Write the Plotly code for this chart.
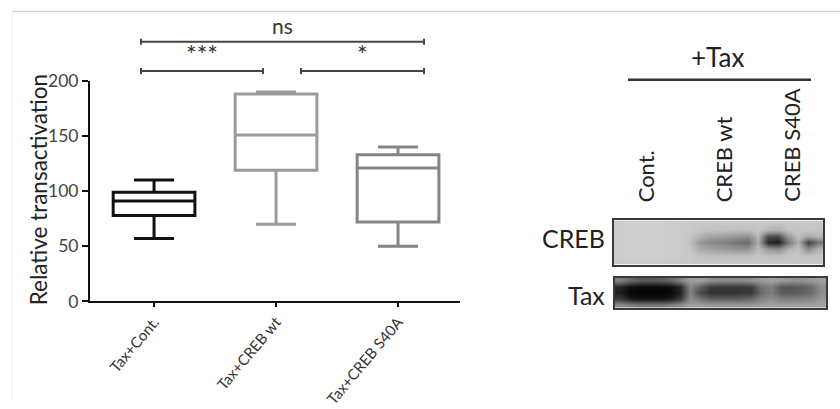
import plotly.graph_objects as go

# ---------------- data ----------------
categories = ["Tax+Cont.", "Tax+CREB wt", "Tax+CREB S40A"]
lower_whisker = [57, 70, 50]
q1_values = [78, 119, 72]
median_values = [91, 151, 121]
q3_values = [99, 188, 133]
upper_whisker = [110, 190, 140]
box_colors = ["#111111", "#9b9b9b", "#858585"]

y_ticks = [0, 50, 100, 150, 200]

brackets = [(0, 1, "***", 0), (1, 2, "*", 0), (0, 2, "ns", 1)]
bracket_levels = [209, 235.5]

lanes = ["Cont.", "CREB wt", "CREB S40A"]
blot_rows = ["CREB", "Tax"]

creb_blot = [
    [.20, .19, .19, .19, .19, .20, .20, .21, .22, .22, .22, .22, .22, .22, .22, .22, .23, .22, .22, .22, .22],
    [.20, .19, .19, .19, .19, .20, .20, .21, .23, .24, .24, .25, .25, .25, .23, .28, .30, .24, .23, .23, .23],
    [.20, .19, .19, .19, .19, .20, .20, .22, .30, .36, .38, .40, .42, .44, .28, .70, .72, .40, .25, .35, .30],
    [.20, .19, .19, .19, .19, .20, .20, .23, .40, .46, .48, .50, .55, .58, .32, .85, .88, .55, .30, .75, .55],
    [.20, .19, .19, .19, .19, .20, .20, .22, .32, .36, .38, .40, .42, .42, .27, .40, .45, .30, .24, .45, .30],
    [.20, .19, .19, .19, .19, .20, .20, .21, .24, .25, .25, .25, .25, .25, .23, .25, .25, .23, .22, .24, .23],
    [.21, .20, .20, .20, .20, .21, .21, .21, .22, .22, .22, .22, .22, .22, .22, .22, .22, .22, .22, .22, .22],
]
tax_blot = [
    [.50, .60, .65, .65, .65, .60, .50, .38, .38, .44, .46, .46, .46, .44, .40, .37, .40, .43, .43, .40, .37],
    [.85, .95, .97, .97, .97, .95, .85, .46, .62, .76, .78, .78, .78, .76, .55, .50, .66, .66, .64, .58, .45],
    [.88, .97, .98, .98, .98, .96, .88, .48, .70, .80, .80, .80, .78, .78, .58, .50, .64, .64, .62, .58, .45],
    [.78, .90, .93, .93, .93, .90, .78, .44, .54, .62, .63, .63, .62, .58, .48, .44, .50, .50, .50, .46, .40],
    [.45, .50, .53, .53, .53, .50, .45, .38, .38, .40, .40, .40, .40, .40, .38, .36, .38, .38, .38, .38, .36],
]

W, H = 840, 409
FONT = "Lato, 'Liberation Sans', Arial, sans-serif"

# the photographed page shows the paper slightly shifted/squeezed vertically;
# these two numbers map reference pixel rows to paper rows
V_SCALE, V_OFFSET = 0.945, 11.4


def px(x):
    return x / W


def py(y):
    page = (y - V_OFFSET) / V_SCALE
    return min(1.0, max(0.0, (H - page) / H))


fig = go.Figure()

positions = list(range(len(categories)))
for i, cat in enumerate(categories):
    fig.add_trace(go.Box(
        x=[positions[i]], q1=[q1_values[i]], median=[median_values[i]], q3=[q3_values[i]],
        lowerfence=[lower_whisker[i]], upperfence=[upper_whisker[i]],
        name=cat, width=0.67, whiskerwidth=0.49,
        line=dict(color=box_colors[i], width=3), fillcolor="rgba(0,0,0,0)",
        boxpoints=False, showlegend=False, hoverinfo="skip",
        xaxis="x", yaxis="y",
    ))

bracket_offsets = {(0, 1): (-0.107, -0.107), (1, 2): (0.205, 0.213), (0, 2): (-0.107, 0.213)}
tick_half = 2.7
bx, by = [], []
for a, b, lab, lev in brackets:
    oa, ob = bracket_offsets[(a, b)]
    x0, x1 = positions[a] + oa, positions[b] + ob
    yl = bracket_levels[lev]
    bx += [x0, x1, None, x0, x0, None, x1, x1, None]
    by += [yl, yl, None, yl - tick_half, yl + tick_half, None, yl - tick_half, yl + tick_half, None]
    fig.add_annotation(x=(x0 + x1) / 2, y=yl + (0.3 if lab != "ns" else 2.0), xref="x", yref="y4",
                       text=lab, showarrow=False, xanchor="center", yanchor="bottom",
                       font=dict(family=FONT, size=25 if lab != "ns" else 21, color="#333333"))
fig.add_trace(go.Scatter(x=bx, y=by, mode="lines", line=dict(color="#444444", width=2),
                         xaxis="x", yaxis="y4", showlegend=False, hoverinfo="skip"))

gray_scale = [[0, "#ffffff"], [1, "#000000"]]
fig.add_trace(go.Heatmap(z=creb_blot, colorscale=gray_scale, zmin=0, zmax=1, zsmooth="best",
                         showscale=False, xaxis="x2", yaxis="y2", hoverinfo="skip"))
fig.add_trace(go.Heatmap(z=tax_blot, colorscale=gray_scale, zmin=0, zmax=1, zsmooth="best",
                         showscale=False, xaxis="x3", yaxis="y3", hoverinfo="skip"))

ncol = len(creb_blot[0])
blot_axis = dict(showticklabels=False, ticks="", showgrid=False, zeroline=False,
                 showline=True, mirror=True, linecolor="#3a3a3a", linewidth=2)

y_top_px, y_bot_px = 81.0, 300.7
per_unit = (y_bot_px - y_top_px) / 200.0

fig.update_layout(
    width=W, height=H, margin=dict(l=0, r=0, t=0, b=0),
    paper_bgcolor="white", plot_bgcolor="white",
    boxmode="overlay",
    xaxis=dict(domain=[px(90), px(460)], range=[-0.525, 2.508], tickvals=positions, ticktext=categories,
               tickangle=-50, ticks="outside", ticklen=4, tickwidth=2, tickcolor="#111",
               showline=True, linewidth=2, linecolor="#111", showgrid=False, zeroline=False,
               tickfont=dict(family=FONT, size=15, color="#333333"), anchor="y"),
    yaxis=dict(domain=[py(y_bot_px), py(y_top_px)], range=[0, 200], tickvals=y_ticks,
               ticks="outside", ticklen=6, tickwidth=2, tickcolor="#111",
               showline=True, linewidth=2, linecolor="#111", showgrid=False, zeroline=False,
               tickfont=dict(family=FONT, size=17.5, color="#444444"), anchor="x"),
    yaxis4=dict(domain=[py(y_top_px), py(y_top_px - 62 * per_unit)], range=[200, 262],
                visible=False, anchor="x"),
    xaxis2=dict(domain=[px(614), px(823)], range=[-0.5, ncol - 0.5], anchor="y2", **blot_axis),
    yaxis2=dict(domain=[py(264), py(220)], range=[len(creb_blot) - 0.5, -0.5], anchor="x2", **blot_axis),
    xaxis3=dict(domain=[px(615), px(826)], range=[-0.5, ncol - 0.5], anchor="y3", **blot_axis),
    yaxis3=dict(domain=[py(307), py(277)], range=[len(tax_blot) - 0.5, -0.5], anchor="x3", **blot_axis),
)

fig.add_annotation(x=px(38), y=py(190), xref="paper", yref="paper", text="Relative transactivation",
                   textangle=-90, showarrow=False, xanchor="center", yanchor="middle",
                   font=dict(family=FONT, size=22.5, color="#222222"))

fig.add_annotation(x=px(717), y=py(57), xref="paper", yref="paper", text="+Tax", showarrow=False,
                   xanchor="center", yanchor="middle", font=dict(family=FONT, size=26, color="#222222"))
fig.add_shape(type="line", xref="paper", yref="paper", x0=px(628), x1=px(811), y0=py(80), y1=py(80),
              line=dict(color="#333333", width=2.5))

lane_x = [645, 723, 792]
for lab, lx in zip(lanes, lane_x):
    fig.add_annotation(x=px(lx), y=py(204), xref="paper", yref="paper", text=lab, textangle=-90,
                       showarrow=False, xanchor="center", yanchor="bottom",
                       font=dict(family=FONT, size=22, color="#222222"))

for lab, ly in zip(blot_rows, [238, 294]):
    fig.add_annotation(x=px(607), y=py(ly), xref="paper", yref="paper", text=lab, showarrow=False,
                       xanchor="right", yanchor="middle", font=dict(family=FONT, size=25, color="#222222"))

# light frame lines, kept inside the paper
fig.add_shape(type="line", xref="paper", yref="paper", x0=px(12), x1=1, y0=0.999, y1=0.999,
              line=dict(color="#d2d2d2", width=1.5))
fig.add_shape(type="line", xref="paper", yref="paper", x0=px(12), x1=px(12), y0=0.999, y1=0,
              line=dict(color="#eeeeee", width=1))

page_css = (
    "document.documentElement.style.margin='0px';"
    "document.body.style.margin='0px';document.body.style.padding='0px';"
)
fig.write_html("out.html", config={"displayModeBar": False}, post_script=page_css)
